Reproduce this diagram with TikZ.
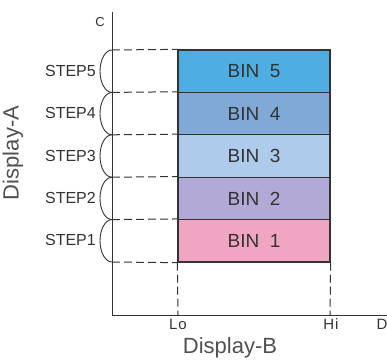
\documentclass[tikz,border=0pt]{standalone}
\usepackage{fontspec}
\setmainfont{Liberation Sans}
\definecolor{ink}{HTML}{333333}
\definecolor{soft}{HTML}{505050}
\definecolor{binA}{HTML}{F2A5C3}
\definecolor{binB}{HTML}{B3A9D6}
\definecolor{binC}{HTML}{AECBEB}
\definecolor{binD}{HTML}{80A9D8}
\definecolor{binE}{HTML}{4EAEE2}
\begin{document}
\begin{tikzpicture}[x=1pt,y=-1pt,
  binbox/.style={draw=ink, line width=1.3pt, minimum width=152pt, minimum height=42.4pt,
    inner sep=0pt, text=ink, font=\fontsize{19}{19}\selectfont},
  guide/.style={draw=ink, line width=1pt, dash pattern=on 8pt off 4pt},
  axisline/.style={draw=ink, line width=1pt},
  steparc/.style={draw=ink, line width=0.9pt},
  steplabel/.style={anchor=east, text=ink, inner sep=0pt, font=\fontsize{16}{16}\selectfont},
  ticklabel/.style={text=ink, inner sep=0pt, font=\fontsize{15}{15}\selectfont},
  axistitle/.style={text=soft, inner sep=0pt, font=\fontsize{22}{22}\selectfont}]
\useasboundingbox (0,0) rectangle (387,361);
% axes
\coordinate (top) at (112,12);
\coordinate (orig) at (112,315);
\coordinate (right) at (387,315);
\draw[axisline] (top) -- (orig) -- (right);
% step boundaries on axis
\coordinate (s0) at (112,262);
\coordinate (s1) at (112,219.6);
\coordinate (s2) at (112,177.2);
\coordinate (s3) at (112,134.8);
\coordinate (s4) at (112,92.4);
\coordinate (s5) at (112,50);
% bins
\node[binbox, fill=binE] (bin5) at (254,71.2) {BIN\ \ 5};
\node[binbox, fill=binD] (bin4) at (254,113.6) {BIN\ \ 4};
\node[binbox, fill=binC] (bin3) at (254,156) {BIN\ \ 3};
\node[binbox, fill=binB] (bin2) at (254,198.4) {BIN\ \ 2};
\node[binbox, fill=binA] (bin1) at (254,240.8) {BIN\ \ 1};
% dashed guides
\draw[guide] (s5) -- (bin5.north west);
\draw[guide] (s4) -- (bin4.north west);
\draw[guide] (s3) -- (bin3.north west);
\draw[guide] (s2) -- (bin2.north west);
\draw[guide] (s1) -- (bin1.north west);
\draw[guide] (s0) -- (bin1.south west);
\coordinate (lo) at (178,315);
\coordinate (hi) at (330,315);
\draw[guide] (bin1.south west) -- (lo);
\draw[guide] (bin1.south east) -- (hi);
% step arcs
\foreach \s in {s5,s4,s3,s2,s1}{
  \draw[steparc] (\s) arc[start angle=90, end angle=270, x radius=12pt, y radius=21.2pt];
}
% step labels
\node[steplabel] (st5) at (96,71) {STEP5};
\node[steplabel] (st4) at (96,113) {STEP4};
\node[steplabel] (st3) at (96,155.5) {STEP3};
\node[steplabel] (st2) at (96,197.5) {STEP2};
\node[steplabel] (st1) at (96,239.5) {STEP1};
% axis labels
\node[ticklabel, font=\fontsize{13}{13}\selectfont] (c) at (100,22) {C};
\node[ticklabel] (lolab) at (178,324) {L\kern1pt o};
\node[ticklabel] (hilab) at (331,324) {H\kern1pt i};
\node[ticklabel] (dlab) at (382,324) {D};
\node[axistitle] (xb) at (230,348) {Display-B};
\node[axistitle, rotate=90] (ya) at (13,153) {Display-A};
\end{tikzpicture}
\end{document}
